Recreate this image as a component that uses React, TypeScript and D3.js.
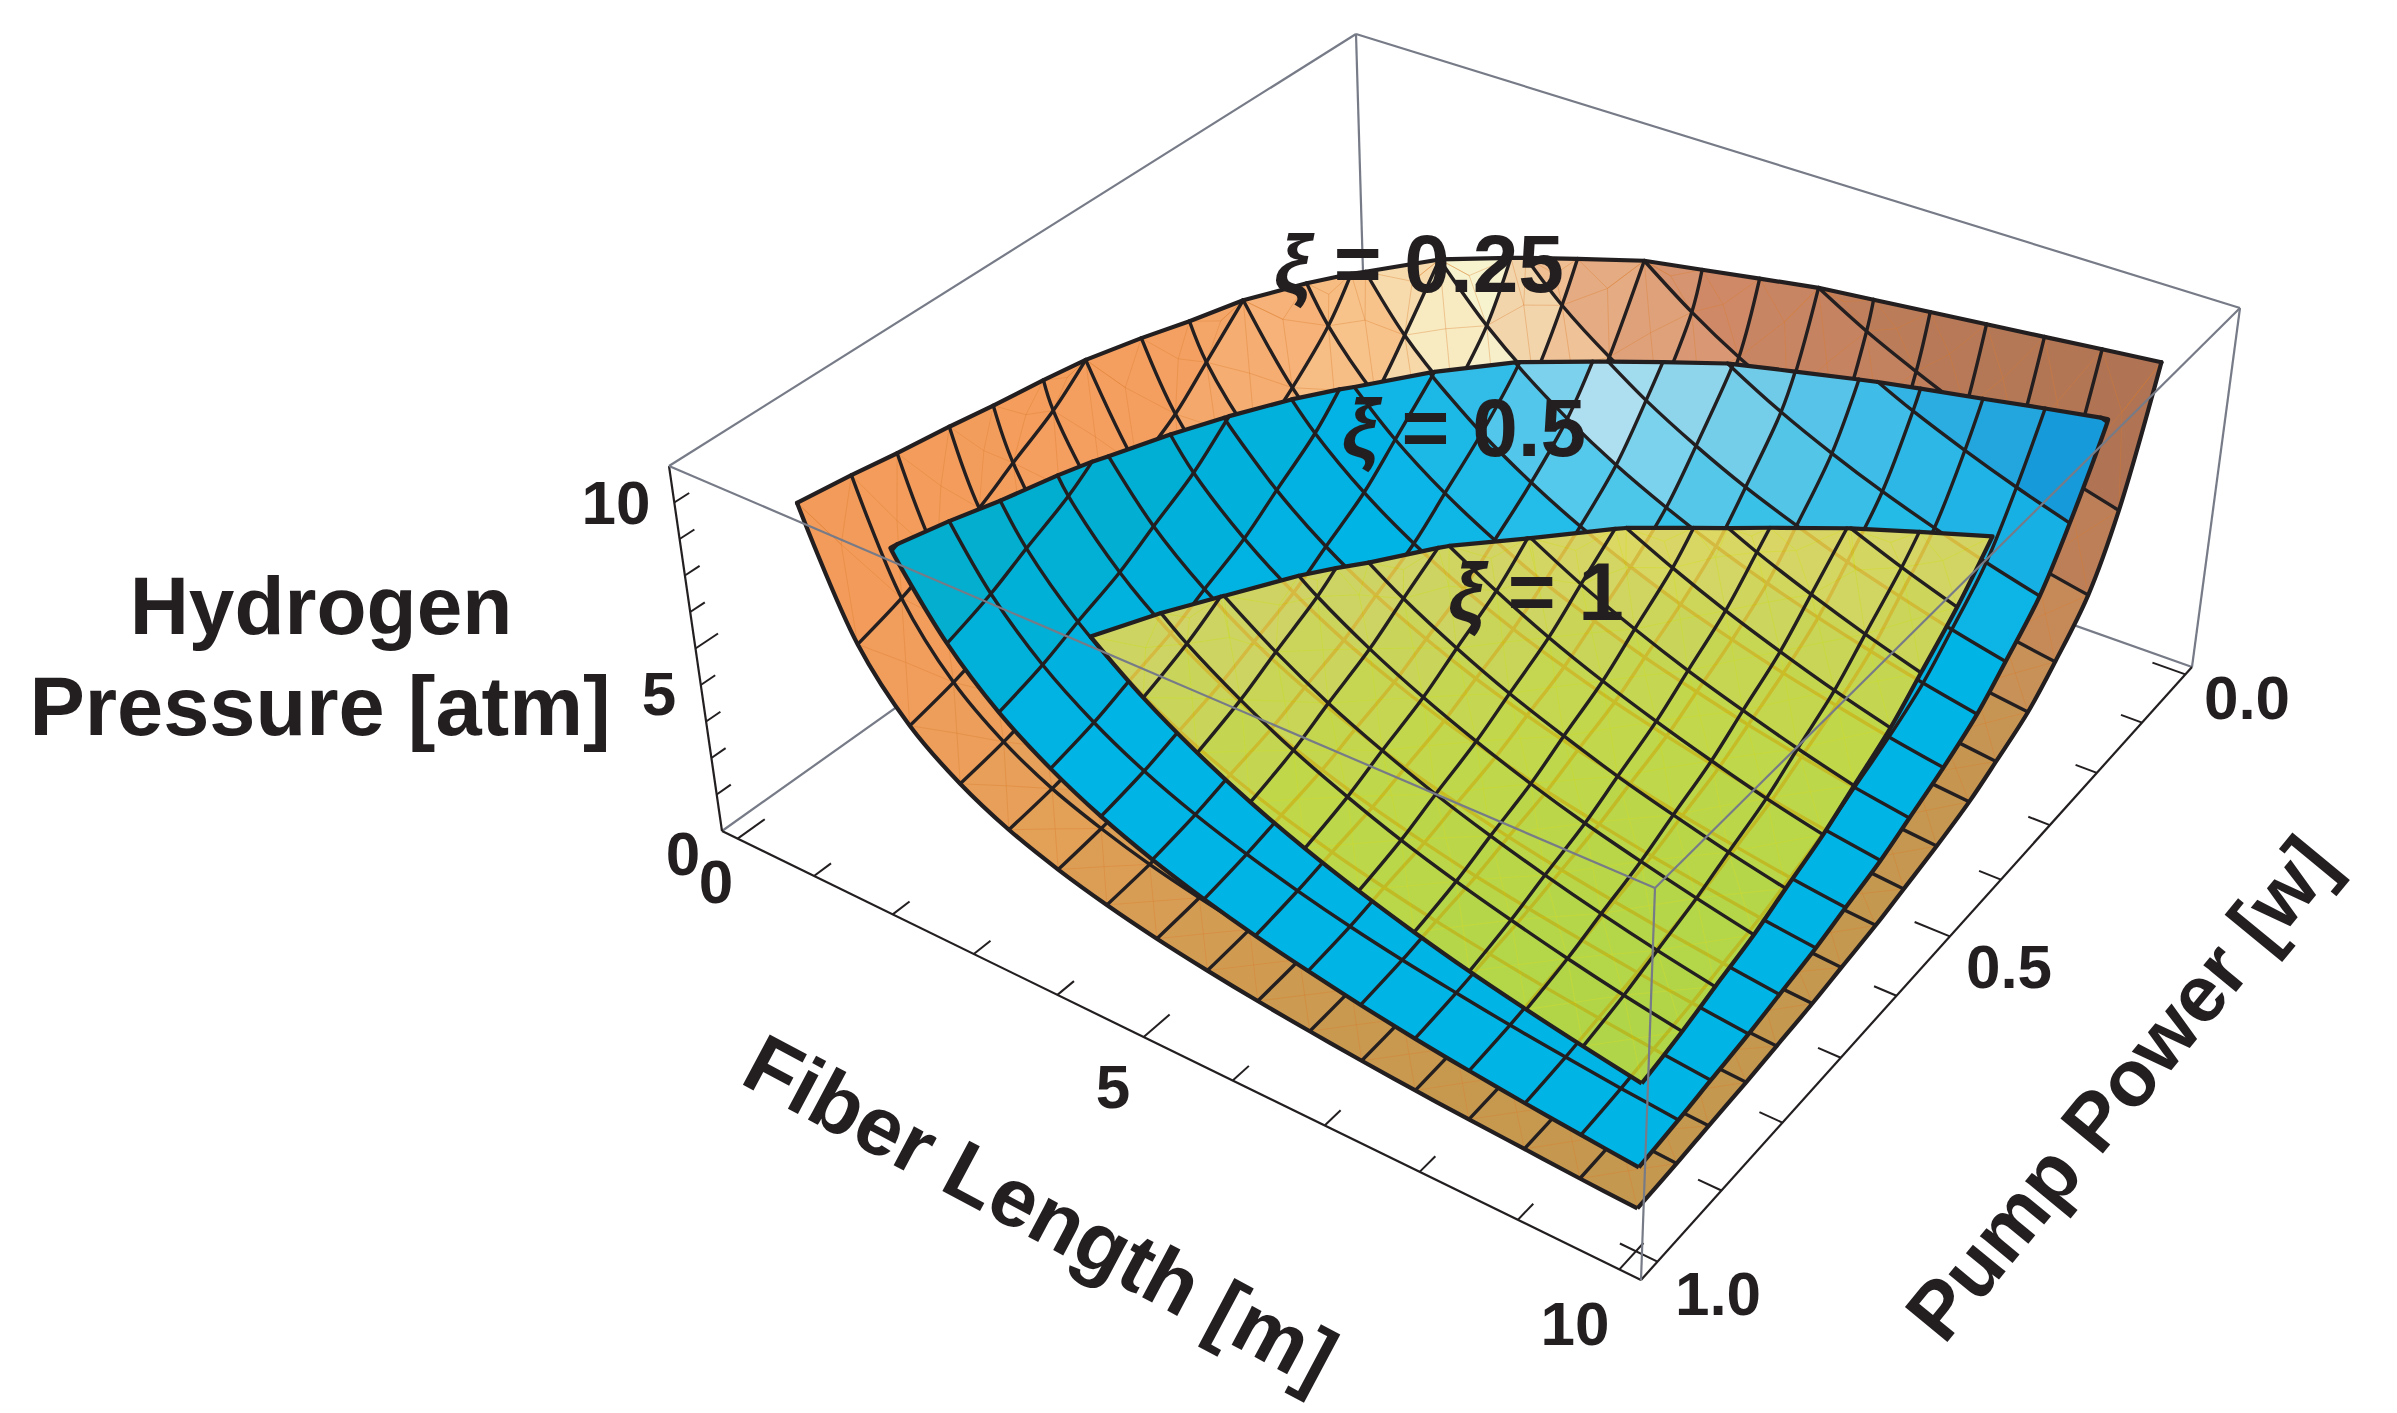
import React, { useRef, useEffect } from 'react';
import * as d3 from 'd3';

const WIDTH = 2397;
const HEIGHT = 1413;
const P_MAX = 10;

// mesh lines of the surfaces
const fiberGrid = [10, 9.44, 8.89, 8.33, 7.78, 7.22, 6.67, 6.11, 5.56, 5, 4.44, 3.89, 3.33, 2.78, 2.22, 1.67, 1.11, 0.56];
const powerGrid = [1, 0.94, 0.89, 0.83, 0.78, 0.72, 0.67, 0.61, 0.56, 0.5, 0.44, 0.39, 0.33, 0.28, 0.22, 0.17, 0.11, 0.06];

// rows follow fiberGrid, columns follow powerGrid
const pressure025 = [
  [1.10, 1.16, 1.24, 1.32, 1.41, 1.52, 1.65, 1.80, 1.98, 2.20, 2.48, 2.83, 3.30, 3.96, 4.95, 6.60, 9.90, 19.8],
  [1.16, 1.23, 1.31, 1.40, 1.50, 1.61, 1.75, 1.91, 2.10, 2.33, 2.62, 3.00, 3.49, 4.19, 5.24, 6.99, 10.48, 20.97],
  [1.24, 1.31, 1.39, 1.49, 1.59, 1.71, 1.86, 2.03, 2.23, 2.48, 2.78, 3.18, 3.71, 4.46, 5.57, 7.43, 11.14, 22.28],
  [1.32, 1.40, 1.49, 1.58, 1.70, 1.83, 1.98, 2.16, 2.38, 2.64, 2.97, 3.39, 3.96, 4.75, 5.94, 7.92, 11.88, 23.76],
  [1.41, 1.50, 1.59, 1.70, 1.82, 1.96, 2.12, 2.31, 2.55, 2.83, 3.18, 3.64, 4.24, 5.09, 6.36, 8.49, 12.73, 25.45],
  [1.52, 1.61, 1.71, 1.83, 1.96, 2.11, 2.28, 2.49, 2.74, 3.05, 3.43, 3.92, 4.57, 5.48, 6.85, 9.14, 13.71, 27.41],
  [1.65, 1.75, 1.86, 1.98, 2.12, 2.28, 2.48, 2.70, 2.97, 3.30, 3.71, 4.24, 4.95, 5.94, 7.43, 9.90, 14.85, 29.7],
  [1.80, 1.91, 2.03, 2.16, 2.31, 2.49, 2.70, 2.95, 3.24, 3.60, 4.05, 4.63, 5.40, 6.48, 8.10, 10.80, 16.20, 32.4],
  [1.98, 2.10, 2.23, 2.38, 2.55, 2.74, 2.97, 3.24, 3.56, 3.96, 4.46, 5.09, 5.94, 7.13, 8.91, 11.88, 17.82, 35.64],
  [2.20, 2.33, 2.48, 2.64, 2.83, 3.05, 3.30, 3.60, 3.96, 4.40, 4.95, 5.66, 6.60, 7.92, 9.90, 13.20, 19.80, 39.6],
  [2.48, 2.62, 2.78, 2.97, 3.18, 3.43, 3.71, 4.05, 4.46, 4.95, 5.57, 6.36, 7.43, 8.91, 11.14, 14.85, 22.28, 44.55],
  [2.83, 3.00, 3.18, 3.39, 3.64, 3.92, 4.24, 4.63, 5.09, 5.66, 6.36, 7.27, 8.49, 10.18, 12.73, 16.97, 25.45, 50.9],
  [3.30, 3.49, 3.71, 3.96, 4.24, 4.57, 4.95, 5.40, 5.94, 6.60, 7.43, 8.49, 9.90, 11.88, 14.85, 19.80, 29.7, 59.4],
  [3.96, 4.19, 4.46, 4.75, 5.09, 5.48, 5.94, 6.48, 7.13, 7.92, 8.91, 10.18, 11.88, 14.26, 17.82, 23.76, 35.64, 71.28],
  [4.95, 5.24, 5.57, 5.94, 6.36, 6.85, 7.43, 8.10, 8.91, 9.90, 11.14, 12.73, 14.85, 17.82, 22.28, 29.7, 44.55, 89.1],
  [6.60, 6.99, 7.43, 7.92, 8.49, 9.14, 9.90, 10.80, 11.88, 13.20, 14.85, 16.97, 19.80, 23.76, 29.7, 39.6, 59.4, 118.8],
  [9.90, 10.48, 11.14, 11.88, 12.73, 13.71, 14.85, 16.20, 17.82, 19.80, 22.28, 25.45, 29.7, 35.64, 44.55, 59.4, 89.1, 178.2],
  [19.8, 20.97, 22.28, 23.76, 25.45, 27.41, 29.7, 32.4, 35.64, 39.6, 44.55, 50.9, 59.4, 71.28, 89.1, 118.8, 178.2, 356.4],
];

const pressure05 = [
  [2.15, 2.28, 2.42, 2.58, 2.76, 2.98, 3.23, 3.52, 3.87, 4.30, 4.84, 5.53, 6.45, 7.74, 9.68, 12.9],
  [2.28, 2.41, 2.56, 2.73, 2.93, 3.15, 3.41, 3.73, 4.10, 4.55, 5.12, 5.85, 6.83, 8.20, 10.24, 13.66],
  [2.42, 2.56, 2.72, 2.90, 3.11, 3.35, 3.63, 3.96, 4.35, 4.84, 5.44, 6.22, 7.26, 8.71, 10.89, 14.51],
  [2.58, 2.73, 2.90, 3.10, 3.32, 3.57, 3.87, 4.22, 4.64, 5.16, 5.81, 6.63, 7.74, 9.29, 11.61, 15.48],
  [2.76, 2.93, 3.11, 3.32, 3.55, 3.83, 4.15, 4.52, 4.98, 5.53, 6.22, 7.11, 8.29, 9.95, 12.44, 16.59],
  [2.98, 3.15, 3.35, 3.57, 3.83, 4.12, 4.47, 4.87, 5.36, 5.95, 6.70, 7.65, 8.93, 10.72, 13.40, 17.86],
  [3.23, 3.41, 3.63, 3.87, 4.15, 4.47, 4.84, 5.28, 5.81, 6.45, 7.26, 8.29, 9.68, 11.61, 14.51, 19.35],
  [3.52, 3.73, 3.96, 4.22, 4.52, 4.87, 5.28, 5.76, 6.33, 7.04, 7.92, 9.05, 10.55, 12.67, 15.83, 21.11],
  [3.87, 4.10, 4.35, 4.64, 4.98, 5.36, 5.81, 6.33, 6.97, 7.74, 8.71, 9.95, 11.61, 13.93, 17.42, 23.22],
  [4.30, 4.55, 4.84, 5.16, 5.53, 5.95, 6.45, 7.04, 7.74, 8.60, 9.68, 11.06, 12.90, 15.48, 19.35, 25.8],
  [4.84, 5.12, 5.44, 5.81, 6.22, 6.70, 7.26, 7.92, 8.71, 9.68, 10.89, 12.44, 14.51, 17.42, 21.77, 29.03],
  [5.53, 5.85, 6.22, 6.63, 7.11, 7.65, 8.29, 9.05, 9.95, 11.06, 12.44, 14.22, 16.59, 19.90, 24.88, 33.17],
  [6.45, 6.83, 7.26, 7.74, 8.29, 8.93, 9.68, 10.55, 11.61, 12.90, 14.51, 16.59, 19.35, 23.22, 29.03, 38.7],
  [7.74, 8.20, 8.71, 9.29, 9.95, 10.72, 11.61, 12.67, 13.93, 15.48, 17.42, 19.90, 23.22, 27.86, 34.83, 46.44],
  [9.68, 10.24, 10.89, 11.61, 12.44, 13.40, 14.51, 15.83, 17.42, 19.35, 21.77, 24.88, 29.03, 34.83, 43.54, 58.05],
  [12.9, 13.66, 14.51, 15.48, 16.59, 17.86, 19.35, 21.11, 23.22, 25.8, 29.03, 33.17, 38.7, 46.44, 58.05, 77.4],
];

const pressure1 = [
  [4.30, 4.56, 4.84, 5.16, 5.53, 5.96, 6.45, 7.04, 7.74, 8.60, 9.68, 11.06],
  [4.56, 4.82, 5.12, 5.47, 5.85, 6.30, 6.83, 7.45, 8.20, 9.11, 10.24, 11.71],
  [4.84, 5.12, 5.44, 5.81, 6.22, 6.70, 7.26, 7.92, 8.71, 9.68, 10.88, 12.44],
  [5.16, 5.47, 5.81, 6.19, 6.63, 7.15, 7.74, 8.45, 9.29, 10.32, 11.61, 13.27],
  [5.53, 5.85, 6.22, 6.63, 7.11, 7.65, 8.29, 9.05, 9.95, 11.06, 12.44, 14.22],
  [5.96, 6.30, 6.70, 7.15, 7.65, 8.24, 8.93, 9.74, 10.72, 11.91, 13.39, 15.31],
  [6.45, 6.83, 7.26, 7.74, 8.29, 8.93, 9.68, 10.56, 11.61, 12.90, 14.51, 16.59],
  [7.04, 7.45, 7.92, 8.45, 9.05, 9.74, 10.56, 11.52, 12.66, 14.07, 15.83, 18.09],
  [7.74, 8.20, 8.71, 9.29, 9.95, 10.72, 11.61, 12.66, 13.93, 15.48, 17.42, 19.90],
  [8.60, 9.11, 9.68, 10.32, 11.06, 11.91, 12.90, 14.07, 15.48, 17.20, 19.35, 22.11],
  [9.68, 10.24, 10.88, 11.61, 12.44, 13.39, 14.51, 15.83, 17.42, 19.35, 21.77, 24.88],
  [11.06, 11.71, 12.44, 13.27, 14.22, 15.31, 16.59, 18.09, 19.90, 22.11, 24.88, 28.43],
];

// where each surface stops at its upper edge
const ceiling025 = 9.9;
const ceiling05 = 9.75;
const ceiling1 = 9.65;

const fiberTicks = [0, 1, 2, 3, 4, 5, 6, 7, 8, 9, 10];
const powerTicks = [0, 0.1, 0.2, 0.3, 0.4, 0.5, 0.6, 0.7, 0.8, 0.9, 1];
const pressureTicks = [1, 2, 3, 4, 5, 6, 7, 8, 9];
const fiberMajor = [0, 5, 10];
const powerMajor = [0, 0.5, 1];
const pressureMajor = [5];

const INK = '#231f20';
const BOX = '#767b87';
const FONT = '"Liberation Sans", Arial, sans-serif';

// shading along the surface, from the short-fiber side to the low-power side
const orangeStops = [-2.2, -1, -0.3, 0.1, 0.5, 1, 1.6, 2.2];
const orangeTop = ['#f39a58', '#f4a062', '#f7c48c', '#f8f6d2', '#eeb88c', '#d08a68', '#b87a58', '#ab6f50'];
const orangeLow = ['#f39a58', '#e2a057', '#c8994f', '#c4984f', '#c4984f', '#c79552', '#cb8d58', '#c08055'];
const blueStops = [-2.2, -1, -0.3, 0, 0.35, 0.7, 1, 1.4];
const blueTop = ['#05adc8', '#02aed0', '#03b3e6', '#30bde8', '#b0e0f0', '#7ccfe8', '#3cbbe8', '#1598d8'];
const blueLow = ['#00b4e6', '#00b4e6', '#00b4e6', '#00b4e6', '#00b4e6', '#00b4e6', '#00b4e6', '#00b4e6'];
const yellowByPressure = ['#d5dd26', '#ecdf28', '#ffdb4d'];

// maps the unit square onto a quad with perspective: (0,0) a, (1,0) b, (1,1) c, (0,1) d
const quadMap = (a, b, c, d) => {
  const dx1 = b[0] - c[0], dx2 = d[0] - c[0], sx = a[0] - b[0] + c[0] - d[0];
  const dy1 = b[1] - c[1], dy2 = d[1] - c[1], sy = a[1] - b[1] + c[1] - d[1];
  const den = dx1 * dy2 - dx2 * dy1;
  const g = (sx * dy2 - dx2 * sy) / den;
  const h = (dx1 * sy - sx * dy1) / den;
  return (u, v) => {
    const q = g * u + h * v + 1;
    return [
      ((b[0] - a[0] + g * b[0]) * u + (d[0] - a[0] + h * d[0]) * v + a[0]) / q,
      ((b[1] - a[1] + g * b[1]) * u + (d[1] - a[1] + h * d[1]) * v + a[1]) / q,
    ];
  };
};

const backBottom = [1366, 374], rightBottom = [2192, 667], frontBottom = [1641, 1280], leftBottom = [722, 831];
const backTop = [1356, 34], rightTop = [2240, 308], frontTop = [1655, 888], leftTop = [669, 466];
const bottomFace = quadMap(backBottom, rightBottom, frontBottom, leftBottom);
const topFace = quadMap(backTop, rightTop, frontTop, leftTop);

const box = (u, v, w) => {
  const b = bottomFace(u, v), t = topFace(u, v);
  return [b[0] + (t[0] - b[0]) * w, b[1] + (t[1] - b[1]) * w];
};

const uScale = d3.scaleLinear().domain([0, 10]).range([0.02, 0.98]);
const vScale = d3.scaleLinear().domain([0, 1]).range([0.015, 0.976]);
const wScale = d3.scaleLinear().domain([0, P_MAX]).range([0, 1]);
const project = (n) => box(uScale(n.L), vScale(n.P), wScale(n.p));

// keeps the part of a run of nodes that lies under the ceiling
const clipRun = (nodes, cap) => {
  const out = [];
  nodes.forEach((n, i) => {
    const prev = nodes[i - 1];
    if (prev && (prev.p <= cap) !== (n.p <= cap)) {
      const t = (cap - prev.p) / (n.p - prev.p);
      out.push({ L: prev.L + t * (n.L - prev.L), P: prev.P + t * (n.P - prev.P), p: cap, cut: true });
    }
    if (n.p <= cap) out.push(n);
  });
  return out;
};

const App = () => {
  const svgRef = useRef();

  useEffect(() => {
    const svg = d3.select(svgRef.current);
    svg.selectAll('*').remove();

    const mesh = d3.line().curve(d3.curveCatmullRom.alpha(0.5));
    const straight = d3.line();

    const segment = (g, a, b, color, width) => g.append('path')
      .attr('d', straight([a, b]))
      .attr('fill', 'none')
      .attr('stroke', color)
      .attr('stroke-width', width);

    // back of the box
    const back = svg.append('g');
    segment(back, leftTop, backTop, BOX, 2.2);
    segment(back, backTop, rightTop, BOX, 2.2);
    segment(back, backTop, backBottom, BOX, 2.2);
    segment(back, leftBottom, backBottom, BOX, 2.2);
    segment(back, rightBottom, backBottom, BOX, 2.2);
    segment(back, rightTop, rightBottom, BOX, 2.2);

    // axes
    const axes = svg.append('g');
    segment(axes, leftBottom, frontBottom, INK, 2.2);
    segment(axes, frontBottom, rightBottom, INK, 2.2);
    segment(axes, leftTop, leftBottom, INK, 2.2);
    fiberTicks.forEach(t => {
      const u = uScale(t);
      segment(axes, box(u, 1, 0), box(u, fiberMajor.includes(t) ? 0.965 : 0.978, 0), INK, 2);
    });
    powerTicks.forEach(t => {
      const v = vScale(t);
      segment(axes, box(1, v, 0), box(powerMajor.includes(t) ? 0.965 : 0.978, v, 0), INK, 2);
    });
    pressureTicks.forEach(t => {
      const w = wScale(t);
      segment(axes, box(0, 1, w), box(0, pressureMajor.includes(t) ? 0.972 : 0.982, w), INK, 2);
    });

    const drawSurface = (table, cap, colorOf, texture) => {
      const rows = table.length, cols = table[0].length;
      const node = (i, j) => ({ L: fiberGrid[i], P: powerGrid[j], p: table[i][j] });
      const g = svg.append('g');
      const cells = g.append('g').attr('opacity', texture.opacity);
      const rim = [];

      for (let i = 0; i < rows - 1; i++) {
        for (let j = 0; j < cols - 1; j++) {
          const ring = [node(i, j), node(i, j + 1), node(i + 1, j + 1), node(i + 1, j)];
          const clipped = clipRun([...ring, ring[0]], cap);
          if (clipped.length < 3) continue;
          const poly = clipped[clipped.length - 1].cut ? clipped : clipped.slice(0, -1);
          const ends = poly.filter(n => n.cut);
          if (ends.length === 2) rim.push(ends.map(project));

          const L = d3.mean(poly, n => n.L), P = d3.mean(poly, n => n.P), p = d3.mean(poly, n => n.p);
          const fill = colorOf(Math.log(L / (10 * P)), p);
          const pts = poly.map(project);
          cells.append('path')
            .attr('d', straight(pts) + 'Z')
            .attr('fill', fill)
            .attr('stroke', fill)
            .attr('stroke-width', 1);

          if (texture.color) {
            const c = project({ L, P, p });
            pts.forEach(q => segment(cells, c, q, texture.color, 1).attr('stroke-opacity', texture.strength));
          }
        }
      }

      const drawLine = (nodes, width) => {
        const run = clipRun(nodes, cap);
        if (run.length < 2) return;
        g.append('path')
          .attr('d', mesh(run.map(project)))
          .attr('fill', 'none')
          .attr('stroke', INK)
          .attr('stroke-width', width)
          .attr('stroke-linejoin', 'round');
      };
      for (let i = 0; i < rows; i++) drawLine(d3.range(cols).map(j => node(i, j)), i === 0 ? 4.2 : 3.4);
      for (let j = 0; j < cols; j++) drawLine(d3.range(rows).map(i => node(i, j)), j === 0 ? 4.2 : 3.4);
      rim.forEach(([a, b]) => segment(g, a, b, INK, 4.2).attr('stroke-linecap', 'round'));
    };

    const twoTone = (stops, top, low, from, to) => {
      const upper = d3.scaleLinear().domain(stops).range(top).clamp(true);
      const lower = d3.scaleLinear().domain(stops).range(low).clamp(true);
      const mix = d3.scaleLinear().domain([from, to]).range([0, 1]).clamp(true);
      return (s, p) => d3.interpolateRgb(lower(s), upper(s))(mix(p));
    };
    const yellowScale = d3.scaleLinear().domain([4.3, 7, 9.6]).range(yellowByPressure).clamp(true);

    drawSurface(pressure025, ceiling025, twoTone(orangeStops, orangeTop, orangeLow, 3, 7), { opacity: 1, color: '#d97a2c', strength: 0.35 });
    drawSurface(pressure05, ceiling05, twoTone(blueStops, blueTop, blueLow, 5.5, 9), { opacity: 1 });
    drawSurface(pressure1, ceiling1, (s, p) => yellowScale(p), { opacity: 0.82, color: '#f6e20a', strength: 0.6 });

    // front of the box, over the surfaces
    const front = svg.append('g');
    segment(front, leftTop, frontTop, BOX, 2.2);
    segment(front, frontTop, rightTop, BOX, 2.2);
    segment(front, frontTop, frontBottom, BOX, 2.2);

    const text = (str, x, y, size, angle = 0) => svg.append('text')
      .attr('transform', `translate(${x},${y}) rotate(${angle})`)
      .attr('text-anchor', 'middle')
      .attr('font-family', FONT)
      .attr('font-weight', 'bold')
      .attr('font-size', size)
      .attr('fill', INK)
      .text(str);

    // tick labels
    text('10', 616, 524, 62);
    text('5', 659, 715, 62);
    text('0', 683, 875, 62);
    text('0', 716, 903, 62);
    text('5', 1113, 1108, 62);
    text('10', 1575, 1345, 62);
    text('1.0', 1718, 1315, 62);
    text('0.5', 2009, 988, 62);
    text('0.0', 2247, 719, 62);

    // axis titles
    text('Hydrogen', 321, 634, 82);
    text('Pressure [atm]', 320, 735, 83);
    text('Fiber Length [m]', 1027, 1236, 83, 28);
    text('Pump Power [w]', 2142, 1106, 80, -50.5);

    // surface labels
    const label = (value, x, y) => {
      const t = text('', x, y, 82);
      t.append('tspan').attr('font-style', 'italic').text('ξ');
      t.append('tspan').text(` = ${value}`);
    };
    label('0.25', 1419, 292);
    label('0.5', 1464, 456);
    label('1', 1536, 620);
  }, []);

  return (
    <svg ref={svgRef} width={WIDTH} height={HEIGHT} style={{ position: 'absolute', left: 0, top: 0, background: '#fff' }}></svg>
  );
};

export default App;
